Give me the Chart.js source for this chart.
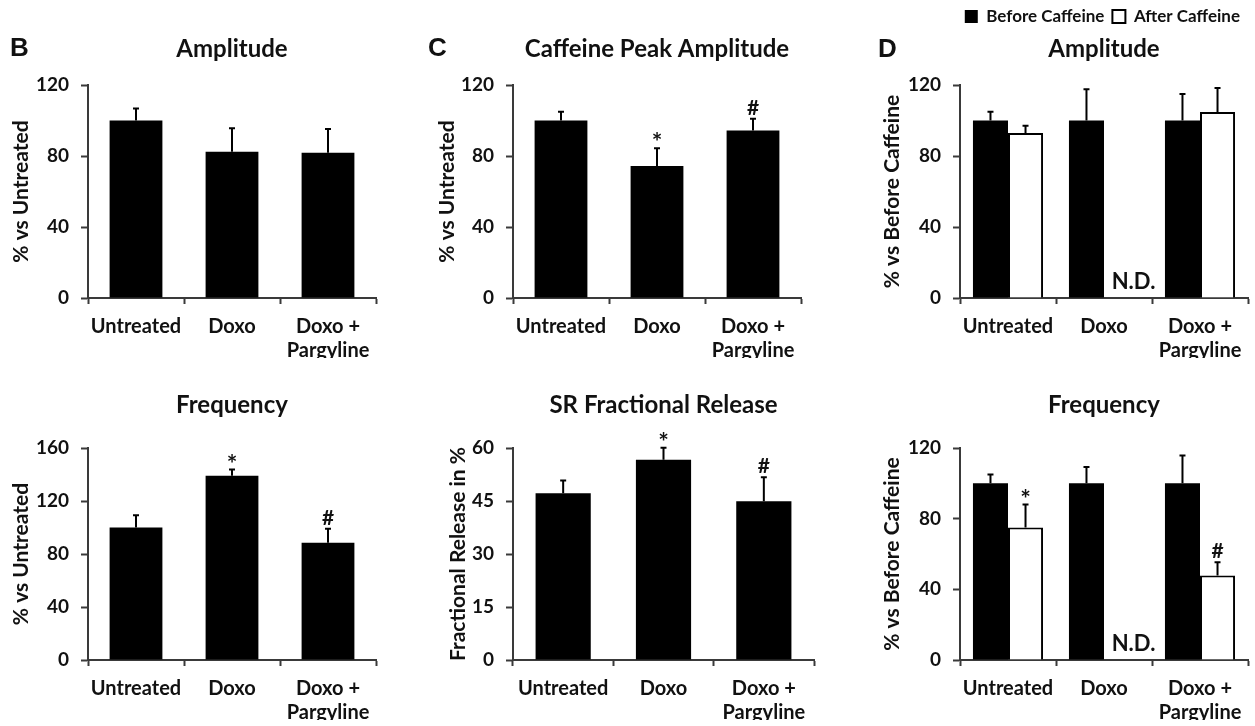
<!DOCTYPE html>
<html>
<head>
<meta charset="utf-8">
<script src="https://cdn.jsdelivr.net/npm/chart.js@4.4.0/dist/chart.umd.min.js"></script>
<style>
    body { margin: 0; background: #fff; }
    #fig { position: relative; width: 1255px; height: 726px; overflow: hidden; }
    .panel { position: absolute; }
    .letter { position: absolute; font: bold 26px "Liberation Sans", Arial, sans-serif; line-height: 1; color: #111; }
</style>
</head>
<body>
<div id="fig">
    <canvas class="panel" id="bAmp" width="400" height="366" style="left:0;top:0"></canvas>
    <canvas class="panel" id="bFreq" width="400" height="360" style="left:0;top:366px"></canvas>
    <canvas class="panel" id="cPeak" width="420" height="366" style="left:400px;top:0"></canvas>
    <canvas class="panel" id="cFrac" width="420" height="360" style="left:400px;top:366px"></canvas>
    <canvas class="panel" id="dAmp" width="420" height="366" style="left:835px;top:0"></canvas>
    <canvas class="panel" id="dFreq" width="420" height="360" style="left:835px;top:366px"></canvas>
    <div class="letter" style="left:10px;top:34px">B</div>
    <div class="letter" style="left:428px;top:34px">C</div>
    <div class="letter" style="left:878px;top:35px">D</div>
</div>
<script>
// data
const groups = ['Untreated', 'Doxo', ['Doxo +', 'Pargyline']];

// B: % vs untreated
const bAmpMean = [100, 82.4, 81.8];
const bAmpErr = [6.8, 13.3, 13.4];
const bAmpMarks = ['', '', ''];
const bFreqMean = [100, 139, 88.5];
const bFreqErr = [9.3, 4.7, 10.5];
const bFreqMarks = ['', '*', '#'];

// C: caffeine peak and SR fractional release
const cPeakMean = [100, 74.3, 94.4];
const cPeakErr = [5, 10, 6.6];
const cPeakMarks = ['', '*', '#'];
const cFracMean = [47.2, 56.7, 44.9];
const cFracErr = [3.6, 3.4, 6.8];
const cFracMarks = ['', '*', '#'];

// D: % vs before caffeine
const seriesNames = ['Before Caffeine', 'After Caffeine'];
const dAmpBefore = [100, 100, 100];
const dAmpBeforeErr = [5, 17.6, 15];
const dAmpAfter = [93, 0, 104.8];
const dAmpAfterErr = [4, 0, 13.5];
const dAmpAfterMarks = ['', '', ''];
const dFreqBefore = [100, 100, 100];
const dFreqBeforeErr = [5, 9.3, 15.7];
const dFreqAfter = [75, 0, 47.9];
const dFreqAfterErr = [13, 0, 7.5];
const dFreqAfterMarks = ['*', '', '#'];
const notDetected = ['', 'N.D.', ''];

const FONT = 'Lato, "Open Sans", sans-serif';
const AXIS = '#3a3a3a';
const INK = '#111';

// error bars (upper half only), significance marks and N.D. labels
const errorBars = {
    id: 'errorBars',
    afterDatasetsDraw(chart) {
        const ctx = chart.ctx;
        const y = chart.scales.y;
        chart.data.datasets.forEach((ds, di) => {
            chart.getDatasetMeta(di).data.forEach((bar, i) => {
                const err = ds.errors ? ds.errors[i] : 0;
                const top = y.getPixelForValue(ds.data[i] + err);
                ctx.save();
                if (err) {
                    ctx.strokeStyle = '#000';
                    ctx.lineWidth = 2;
                    ctx.beginPath();
                    ctx.moveTo(bar.x, bar.y);
                    ctx.lineTo(bar.x, top);
                    ctx.moveTo(bar.x - 3, top);
                    ctx.lineTo(bar.x + 3, top);
                    ctx.stroke();
                }
                ctx.fillStyle = INK;
                ctx.textAlign = 'center';
                ctx.textBaseline = 'alphabetic';
                const mark = ds.marks ? ds.marks[i] : '';
                if (mark === '*') {
                    ctx.font = 'bold 25px ' + FONT;
                    ctx.fillText(mark, bar.x, top + 3);
                } else if (mark) {
                    ctx.font = 'bold 21px ' + FONT;
                    ctx.fillText(mark, bar.x, top - 4);
                }
                const note = ds.notes ? ds.notes[i] : '';
                if (note) {
                    ctx.font = 'bold 22px ' + FONT;
                    ctx.fillText(note, bar.x + 12, y.getPixelForValue(0) - 9);
                }
                ctx.restore();
            });
        });
    }
};

function single(mean, err, marks) {
    return [{ data: mean, errors: err, marks: marks, backgroundColor: '#000', borderWidth: 0,
        barPercentage: 0.55, categoryPercentage: 1 }];
}

function paired(before, beforeErr, after, afterErr, afterMarks) {
    return [
        { label: seriesNames[0], data: before, errors: beforeErr, backgroundColor: '#000',
            borderColor: '#000', borderWidth: 0, barPercentage: 1, categoryPercentage: 0.73 },
        { label: seriesNames[1], data: after, errors: afterErr, marks: afterMarks, notes: notDetected,
            backgroundColor: '#fff', borderColor: '#000', borderWidth: 2, barPercentage: 1, categoryPercentage: 0.73 }
    ];
}

function panel(id, o) {
    return new Chart(document.getElementById(id), {
        type: 'bar',
        data: { labels: groups, datasets: o.datasets },
        options: {
            responsive: false,
            animation: false,
            events: [],
            layout: { padding: { left: o.left, right: o.right, top: 0, bottom: o.bottom } },
            plugins: {
                tooltip: { enabled: false },
                legend: o.legend || { display: false },
                title: {
                    display: true, text: o.title, fullSize: false, color: INK,
                    font: { family: FONT, size: 24, weight: 'bold' },
                    padding: { top: o.titleTop, bottom: o.titleBottom }
                }
            },
            scales: {
                x: {
                    grid: { drawOnChartArea: false, offset: true, tickLength: 6, tickColor: AXIS, tickWidth: 2 },
                    border: { color: AXIS, width: 2 },
                    ticks: { color: INK, padding: 10, maxRotation: 0, autoSkip: false,
                        font: { family: FONT, size: 20, weight: 'bold', lineHeight: 1.22 } },
                    afterFit: s => { s.height = 60; }
                },
                y: {
                    min: 0, max: o.max,
                    ticks: { stepSize: o.step, color: INK, padding: 12,
                        font: { family: FONT, size: 19, weight: 'bold' } },
                    grid: { drawOnChartArea: false, tickLength: 7, tickColor: AXIS, tickWidth: 2 },
                    border: { color: AXIS, width: 2 },
                    title: { display: true, text: o.yTitle, color: INK, padding: { top: 4, bottom: 4 },
                        font: { family: FONT, size: 21, weight: 'bold' } },
                    afterFit: s => { s.width = o.yWidth; }
                }
            }
        },
        plugins: [errorBars]
    });
}

const dLegend = {
    display: true, position: 'top', align: 'end', weight: 3000,
    labels: { color: INK, boxWidth: 13, boxHeight: 13, padding: 8,
        font: { family: FONT, size: 17, weight: 'bold' } }
};

panel('bAmp', { datasets: single(bAmpMean, bAmpErr, bAmpMarks), title: 'Amplitude', yTitle: '% vs Untreated',
    max: 120, step: 40, left: 4.4, yWidth: 83.6, right: 24, bottom: 8, titleTop: 34.6, titleBottom: 21.6 });
panel('bFreq', { datasets: single(bFreqMean, bFreqErr, bFreqMarks), title: 'Frequency', yTitle: '% vs Untreated',
    max: 160, step: 40, left: 4.4, yWidth: 83.6, right: 24, bottom: 6, titleTop: 24.6, titleBottom: 28.6 });
panel('cPeak', { datasets: single(cPeakMean, cPeakErr, cPeakMarks), title: 'Caffeine Peak Amplitude', yTitle: '% vs Untreated',
    max: 120, step: 40, left: 30.4, yWidth: 82.6, right: 19, bottom: 8, titleTop: 34.6, titleBottom: 21.6 });
panel('cFrac', { datasets: single(cFracMean, cFracErr, cFracMarks), title: 'SR Fractional Release', yTitle: 'Fractional Release in %',
    max: 60, step: 15, left: 41.4, yWidth: 71.6, right: 6, bottom: 6, titleTop: 24.6, titleBottom: 28.6 });
panel('dAmp', { datasets: paired(dAmpBefore, dAmpBeforeErr, dAmpAfter, dAmpAfterErr, dAmpAfterMarks), legend: dLegend,
    title: 'Amplitude', yTitle: '% vs Before Caffeine',
    max: 120, step: 40, left: 40.4, yWidth: 84.6, right: 7, bottom: 8, titleTop: 0, titleBottom: 21.2 });
panel('dFreq', { datasets: paired(dFreqBefore, dFreqBeforeErr, dFreqAfter, dFreqAfterErr, dFreqAfterMarks),
    title: 'Frequency', yTitle: '% vs Before Caffeine',
    max: 120, step: 40, left: 40.4, yWidth: 84.6, right: 7, bottom: 6, titleTop: 24.6, titleBottom: 28.6 });
</script>
</body>
</html>
